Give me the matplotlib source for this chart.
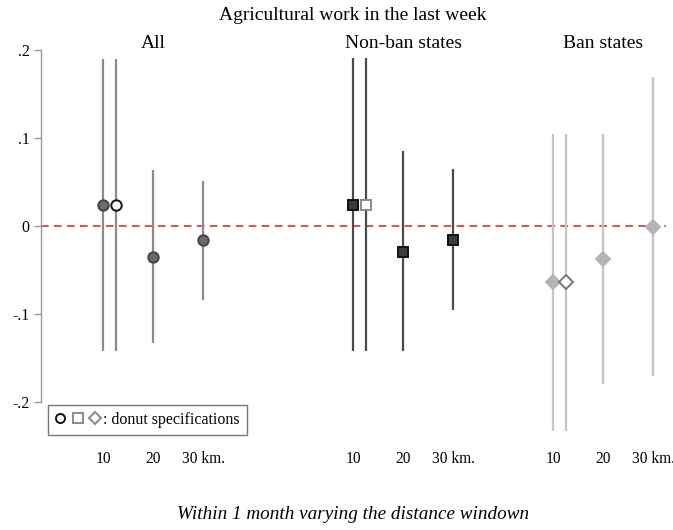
import matplotlib
matplotlib.use("Agg")
import matplotlib.pyplot as plt
from matplotlib.lines import Line2D
from matplotlib.legend_handler import HandlerTuple

plt.rcParams['font.family'] = ['Liberation Serif', 'DejaVu Serif']

# coefficient, lower and upper CI for 10 km, 10 km donut, 20 km, 30 km
groups = ["All", "Non-ban states", "Ban states"]
dist_labels = ["10", "20", "30 km."]

all_coef = [0.024, 0.024, -0.035, -0.016]
all_lo = [-0.142, -0.142, -0.133, -0.084]
all_hi = [0.190, 0.190, 0.064, 0.051]

nonban_coef = [0.024, 0.024, -0.029, -0.016]
nonban_lo = [-0.142, -0.142, -0.142, -0.096]
nonban_hi = [0.191, 0.191, 0.085, 0.065]

ban_coef = [-0.064, -0.064, -0.038, -0.001]
ban_lo = [-0.233, -0.233, -0.179, -0.171]
ban_hi = [0.105, 0.105, 0.104, 0.169]

offsets = [0, 5, 9]
within = [0, 0.25, 1, 2]

styles = [
    # marker, fill, edge, line colour, donut edge
    ("o", "#6b6b6b", "#454545", "#8a8a8a", "#111111"),
    ("s", "#3c3c3c", "#111111", "#4a4a4a", "#8a8a8a"),
    ("D", "#b4b4b4", "#b4b4b4", "#c6c6c6", "#777777"),
]
msizes = [7.5, 7.5, 7]

fig = plt.figure(figsize=(6.73, 5.3), dpi=100)
ax = fig.add_axes([0.0602, 0.1585, 0.9287, 0.7472])

ax.axhline(0, color="#d42020", lw=1.1, ls=(0, (5, 3.5)), zorder=1)

data = [(all_coef, all_lo, all_hi), (nonban_coef, nonban_lo, nonban_hi),
        (ban_coef, ban_lo, ban_hi)]
for g, (coef, lo, hi) in enumerate(data):
    mk, fc, ec, lc, dec = styles[g]
    for i in range(4):
        x = offsets[g] + within[i]
        ax.vlines(x, lo[i], hi[i], color=lc, lw=1.6, zorder=2)
        if i == 1:
            ax.plot(x, coef[i], marker=mk, ms=msizes[g], mfc="white", mec=dec,
                    mew=1.4, zorder=3)
        else:
            ax.plot(x, coef[i], marker=mk, ms=msizes[g], mfc=fc, mec=ec,
                    mew=1.4, zorder=3)
    ax.text(offsets[g] + 1, 1.006, groups[g], transform=ax.get_xaxis_transform(),
            ha="center", va="baseline", fontsize=14)

xt = []
xl = []
for off in offsets:
    xt += [off, off + 1, off + 2]
    xl += dist_labels
ax.set_xticks(xt)
ax.set_xticklabels(xl, fontsize=11.2)
ax.tick_params(axis="x", length=0, pad=3.5)

ax.set_xlim(-1.25, 11.25)
ax.set_ylim(-0.25, 0.2)
ax.set_yticks([0.2, 0.1, 0, -0.1, -0.2])
ax.set_yticklabels([".2", ".1", "0", "-.1", "-.2"], fontsize=11.5)
ax.tick_params(axis="y", length=5, width=1, color="#999999", pad=3)

for s in ["top", "right", "bottom"]:
    ax.spines[s].set_visible(False)
ax.spines["left"].set_bounds(-0.2, 0.2)
ax.spines["left"].set_color("#999999")
ax.spines["left"].set_linewidth(1)

h = (Line2D([], [], marker="o", ls="", ms=6.5, mfc="white", mec="#111111", mew=1.4),
     Line2D([], [], marker="s", ls="", ms=6.5, mfc="white", mec="#8a8a8a", mew=1.4),
     Line2D([], [], marker="D", ls="", ms=6.5, mfc="white", mec="#888888", mew=1.4))
leg = ax.legend([h], [": donut specifications"],
                handler_map={tuple: HandlerTuple(ndivide=None, pad=0.5)},
                loc="lower left", bbox_to_anchor=(0.012, 0.028), borderaxespad=0,
                fancybox=False, edgecolor="#777777", framealpha=1,
                handlelength=2.8, handletextpad=0.2, fontsize=11.5,
                borderpad=0.45)
leg.get_frame().set_linewidth(1)

fig.text(353 / 673, 1 - 20 / 530, "Agricultural work in the last week",
         ha="center", va="baseline", fontsize=14)
fig.text(353 / 673, 1 - 519 / 530, "Within 1 month varying the distance windown",
         ha="center", va="baseline", fontsize=13.8, style="italic")

fig.savefig("out.png", dpi=100)
